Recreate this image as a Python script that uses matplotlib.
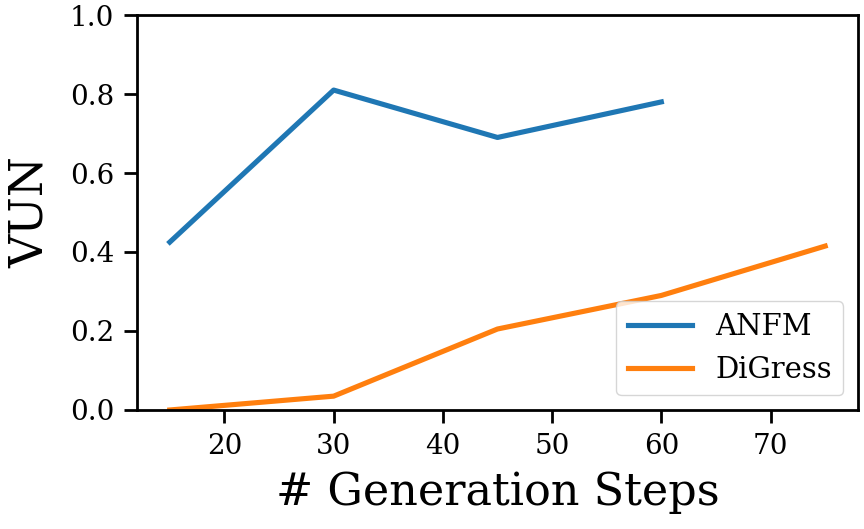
import matplotlib
matplotlib.use("Agg")
import matplotlib.pyplot as plt

# generation steps and VUN scores
anfm_steps = [15, 30, 45, 60]
anfm_vun = [0.425, 0.81, 0.69, 0.78]
digress_steps = [15, 30, 45, 60, 75]
digress_vun = [0.0, 0.035, 0.205, 0.29, 0.415]

plt.rcParams["font.family"] = "DejaVu Serif"
plt.rcParams["axes.linewidth"] = 2.0

fig, ax = plt.subplots(figsize=(8.64, 5.29), dpi=100)
fig.subplots_adjust(left=0.1586, right=0.993, top=0.9716, bottom=0.225)

ax.plot(anfm_steps, anfm_vun, color="#1f77b4", linewidth=3.7, label="ANFM")
ax.plot(digress_steps, digress_vun, color="#ff7f0e", linewidth=3.7, label="DiGress")

ax.set_ylim(0, 1.0)
ax.set_xticks([20, 30, 40, 50, 60, 70])
ax.set_yticks([0.0, 0.2, 0.4, 0.6, 0.8, 1.0])
ax.tick_params(labelsize=20, length=9.5, width=2.0, pad=7)
ax.set_xlabel("# Generation Steps", fontsize=32, labelpad=8)
ax.set_ylabel("VUN", fontsize=33, labelpad=12)
ax.legend(loc="lower right", fontsize=21, handlelength=2.2)

fig.savefig("out.png", dpi=100)
